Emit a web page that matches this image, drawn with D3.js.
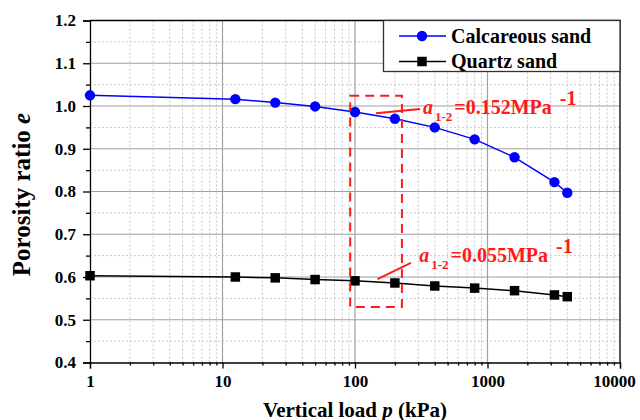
<!DOCTYPE html>
<html>
<head>
<meta charset="utf-8">
<script src="https://cdn.jsdelivr.net/npm/d3@7"></script>
<style>
  body { margin: 0; background: #fff; }
  svg { display: block; font-family: "Liberation Serif", "Times New Roman", serif; font-weight: bold; }
</style>
</head>
<body>
<div id="chart"></div>
<script>
// data
var loads = [1, 12.5, 25, 50, 100, 200, 400, 800, 1600, 3200, 4000];
var calcareous = [1.025, 1.016, 1.008, 0.999, 0.986, 0.970, 0.950, 0.922, 0.880, 0.822, 0.797];
var quartz = [0.603, 0.600, 0.598, 0.594, 0.591, 0.586, 0.579, 0.574, 0.568, 0.558, 0.554];
var seriesNames = ["Calcareous sand", "Quartz sand"];
var xTicks = [1, 10, 100, 1000, 10000];
var yTicks = [0.4, 0.5, 0.6, 0.7, 0.8, 0.9, 1.0, 1.1, 1.2];
// dashed box [x0, x1, yTop, yBottom] and the two coefficient labels
var boxRange = [92, 226, 1.024, 0.530];
var coefValues = ["=0.152MPa", "=0.055MPa"];
var coefText = [[326, 0.981], [305, 0.635]];
var coefLeader = [[[144, 0.983], [310, 0.993]], [[148, 0.595], [264, 0.633]]];

var width = 640, height = 420;
var margin = {left: 90, right: 20, top: 20.5, bottom: 57.5};

var svg = d3.select("#chart").append("svg")
    .attr("width", width).attr("height", height);

var x = d3.scaleLog().domain([1, 10000]).range([margin.left, width - margin.right]);
var y = d3.scaleLinear().domain([0.4, 1.2]).range([height - margin.bottom, margin.top]);

var x0 = x.range()[0], x1 = x.range()[1], y0 = y.range()[0], y1 = y.range()[1];

// minor values
var xMinor = [];
for (var dec = 1; dec < 10000; dec *= 10) {
    for (var k = 2; k <= 9; k++) xMinor.push(dec * k);
}
var yMinor = d3.range(0.45, 1.2, 0.1);

// grid
var grid = svg.append("g");
grid.selectAll(".xmin").data(xMinor).enter().append("line")
    .attr("x1", function(d){ return x(d); }).attr("x2", function(d){ return x(d); })
    .attr("y1", y0).attr("y2", y1)
    .style("stroke", "#c8c8c8").style("stroke-dasharray", "2,2");
grid.selectAll(".ymin").data(yMinor).enter().append("line")
    .attr("x1", x0).attr("x2", x1)
    .attr("y1", function(d){ return y(d); }).attr("y2", function(d){ return y(d); })
    .style("stroke", "#c8c8c8").style("stroke-dasharray", "2,2");
grid.selectAll(".xmaj").data(xTicks.slice(1, -1)).enter().append("line")
    .attr("x1", function(d){ return x(d); }).attr("x2", function(d){ return x(d); })
    .attr("y1", y0).attr("y2", y1)
    .style("stroke", "#a0a0a0").style("stroke-width", 1.2);
grid.selectAll(".ymaj").data(yTicks.slice(1, -1)).enter().append("line")
    .attr("x1", x0).attr("x2", x1)
    .attr("y1", function(d){ return y(d); }).attr("y2", function(d){ return y(d); })
    .style("stroke", "#a0a0a0").style("stroke-width", 1.2);

// axes
var xAxis = svg.append("g").attr("transform", "translate(0," + y0 + ")")
    .call(d3.axisBottom(x).tickValues(xTicks).tickFormat(d3.format("d")).tickSize(6).tickPadding(6));
svg.append("g").attr("transform", "translate(0," + y0 + ")")
    .call(d3.axisBottom(x).tickValues(xMinor).tickFormat("").tickSize(3))
    .select(".domain").remove();
var yAxis = svg.append("g").attr("transform", "translate(" + x0 + ",0)")
    .call(d3.axisLeft(y).tickValues(yTicks).tickFormat(d3.format(".1f")).tickSize(7).tickPadding(7));
svg.append("g").attr("transform", "translate(" + x0 + ",0)")
    .call(d3.axisLeft(y).tickValues(yMinor).tickFormat("").tickSize(4))
    .select(".domain").remove();

svg.selectAll(".tick text")
    .style("font-family", "Liberation Serif").style("font-weight", "bold")
    .style("font-size", "17px").style("fill", "#000");
// last x label sits a little inside the page edge
xAxis.selectAll(".tick text").filter(function(d){ return d === 10000; }).attr("dx", -6);
svg.selectAll(".domain, .tick line").style("stroke", "#000").style("stroke-width", 1.3);

// frame top / right
svg.append("path")
    .attr("d", "M" + x0 + "," + y1 + "H" + x1 + "V" + y0)
    .style("fill", "none").style("stroke", "#000").style("stroke-width", 1.3);

// series
var series = [
    {name: seriesNames[0], values: calcareous, color: "#0000ff", shape: "circle"},
    {name: seriesNames[1], values: quartz, color: "#000000", shape: "square"}
];
var line = d3.line()
    .x(function(d){ return x(d[0]); })
    .y(function(d){ return y(d[1]); });

series.forEach(function(s) {
    var pts = d3.zip(loads, s.values);
    svg.append("path").datum(pts)
        .attr("d", line)
        .style("fill", "none").style("stroke", s.color).style("stroke-width", 1.5);
    var sym = d3.symbol().type(s.shape === "circle" ? d3.symbolCircle : d3.symbolSquare)
        .size(s.shape === "circle" ? 85 : 90);
    svg.selectAll(null).data(pts).enter().append("path")
        .attr("d", sym)
        .attr("transform", function(d){ return "translate(" + x(d[0]) + "," + y(d[1]) + ")"; })
        .style("fill", s.color);
});

// red dashed box
svg.append("rect")
    .attr("x", x(boxRange[0])).attr("y", y(boxRange[2]))
    .attr("width", x(boxRange[1]) - x(boxRange[0]))
    .attr("height", y(boxRange[3]) - y(boxRange[2]))
    .style("fill", "none").style("stroke", "#ff1a1a").style("stroke-width", 2)
    .style("stroke-dasharray", "9,6");

// coefficient labels
coefLeader.forEach(function(l) {
    svg.append("line")
        .attr("x1", x(l[0][0])).attr("y1", y(l[0][1]))
        .attr("x2", x(l[1][0])).attr("y2", y(l[1][1]))
        .style("stroke", "#ff1a1a").style("stroke-width", 1.8);
});
coefText.forEach(function(p, i) {
    var t = svg.append("text")
        .attr("x", x(p[0])).attr("y", y(p[1]))
        .style("fill", "#ff1a1a").style("font-size", "20px");
    t.append("tspan").style("font-style", "italic").text("a");
    t.append("tspan").attr("dx", 2).attr("dy", 7).style("font-size", "13px").text("1-2");
    t.append("tspan").attr("dx", 2).attr("dy", -7).text(coefValues[i]);
    t.append("tspan").attr("dx", 8).attr("dy", -9).text("-1");
});

// legend
var lg = svg.append("g");
lg.append("rect")
    .attr("x", 383.5).attr("y", y1).attr("width", x1 - 383.5).attr("height", 51)
    .style("fill", "#fff").style("stroke", "#333").style("stroke-width", 1.3);
series.forEach(function(s, i) {
    var cy = 36 + i * 25.5;
    lg.append("line").attr("x1", 399).attr("x2", 446).attr("y1", cy).attr("y2", cy)
        .style("stroke", s.color).style("stroke-width", 1.5);
    lg.append("path")
        .attr("d", d3.symbol().type(s.shape === "circle" ? d3.symbolCircle : d3.symbolSquare)
            .size(s.shape === "circle" ? 85 : 90))
        .attr("transform", "translate(422," + cy + ")")
        .style("fill", s.color);
    lg.append("text").attr("x", 451).attr("y", cy + 6.5)
        .style("font-size", "20px").text(s.name);
});

// axis titles
var xt = svg.append("text")
    .attr("x", (x0 + x1) / 2).attr("y", 416.5)
    .attr("text-anchor", "middle").style("font-size", "21px");
xt.append("tspan").text("Vertical load ");
xt.append("tspan").style("font-style", "italic").text("p");
xt.append("tspan").text(" (kPa)");

var yt = svg.append("text")
    .attr("transform", "translate(30," + ((y0 + y1) / 2 + 3) + ") rotate(-90)")
    .attr("text-anchor", "middle").style("font-size", "25px");
yt.append("tspan").text("Porosity ratio ");
yt.append("tspan").style("font-style", "italic").text("e");
</script>
</body>
</html>
